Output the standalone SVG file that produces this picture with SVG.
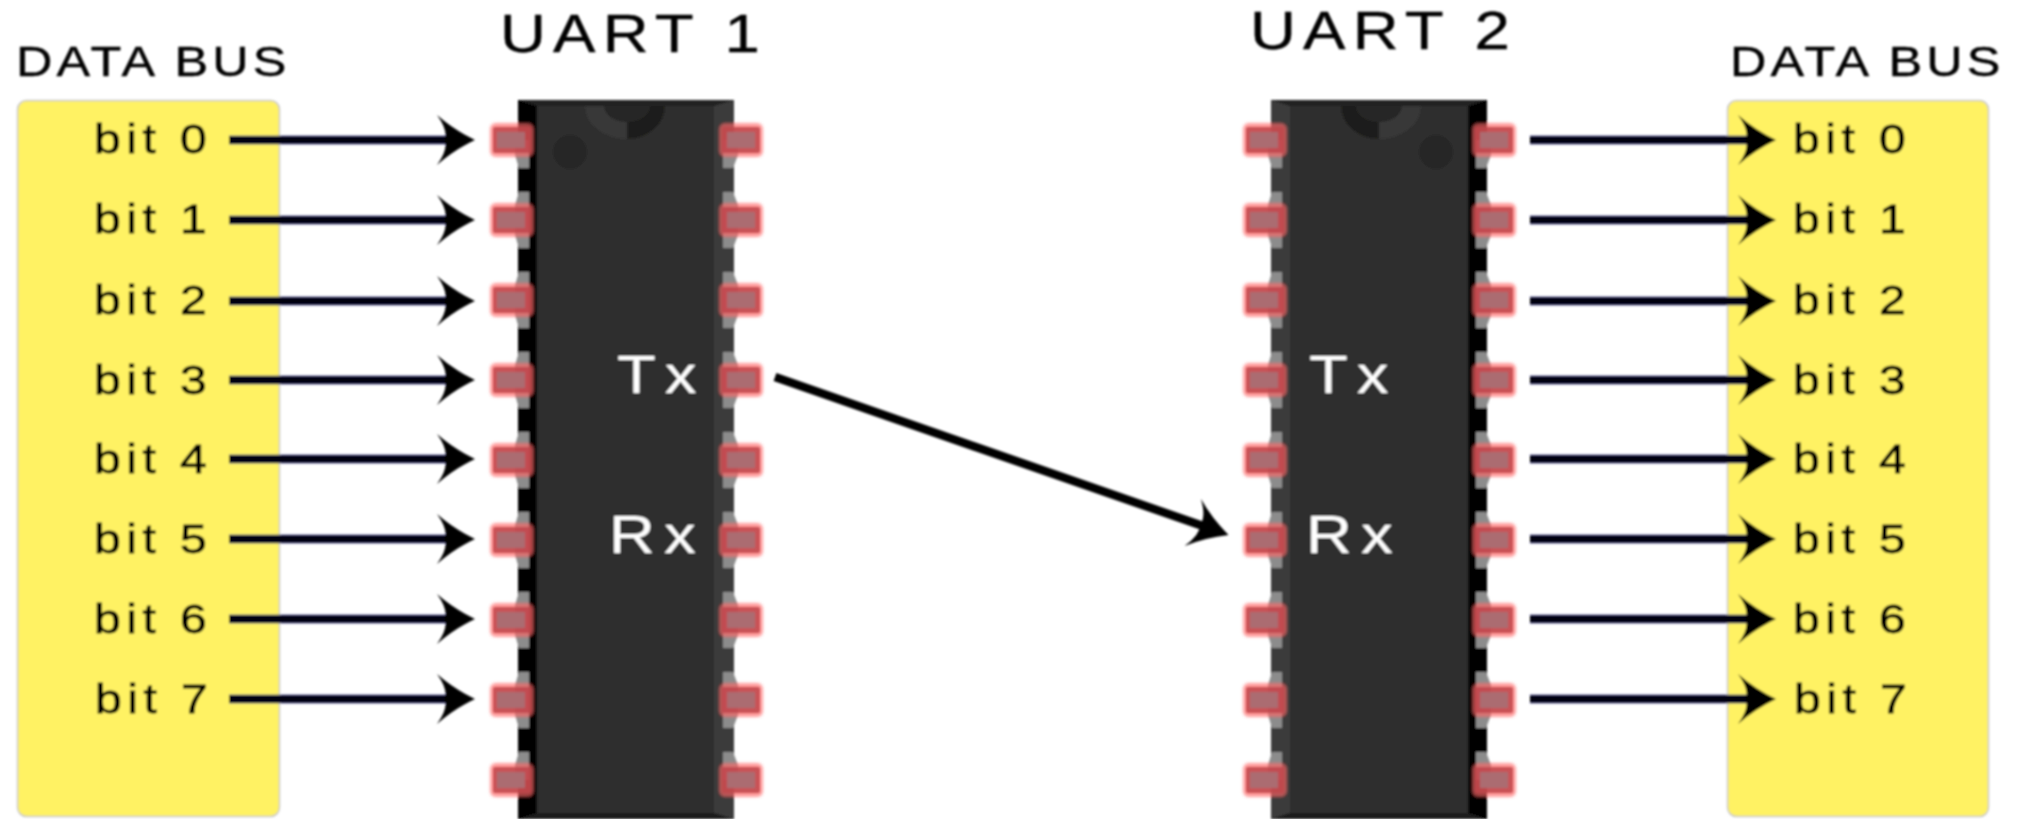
<svg xmlns="http://www.w3.org/2000/svg" xmlns:xlink="http://www.w3.org/1999/xlink" width="2018" height="819" viewBox="0 0 2018 819">
<style>
text{font-family:"Liberation Sans",Arial,sans-serif}
.bit{font-size:40px;letter-spacing:4.6px;fill:#000;stroke:#000;stroke-width:.8}
.bus{font-size:42px;letter-spacing:3.4px;fill:#000;stroke:#000;stroke-width:.4}
.title{font-size:53px;letter-spacing:6px;fill:#000;stroke:#000;stroke-width:.4}
.sig{font-size:53px;letter-spacing:7.5px;fill:#fff}
.box{fill:#fff263;stroke:#c9c9c9;stroke-width:1.5}
.halo{stroke:#6a6aa8;stroke-width:9;fill:none}
.wire{stroke:#000008;stroke-width:7.5;fill:none;marker-end:url(#head)}
.diag{stroke:#000;stroke-width:8.5;fill:none;marker-end:url(#head)}
.body{fill:#2f2f2f}
.leg{fill:#8c8c8c}
.glow{fill:#f66;opacity:.65;filter:url(#glowblur)}
.rim{fill:#c0454b;opacity:.85}
.core{fill:#ab6c71}
</style>
<defs>
<filter id="soft" filterUnits="userSpaceOnUse" x="0" y="0" width="2018" height="819"><feGaussianBlur stdDeviation="0.9"/></filter>
<filter id="glowblur" x="-20%" y="-20%" width="140%" height="140%"><feGaussianBlur stdDeviation="1.2"/></filter>
<marker id="head" markerUnits="userSpaceOnUse" markerWidth="44" markerHeight="56" viewBox="0 -28 44 56" refX="11" refY="0" orient="auto"><path d="M0-25Q17-10 38 0Q17 10 0 25Q11 10 8 0Q11-10 0-25Z" fill="#000"/></marker>
<path id="lu" class="leg" d="M1-28H11V0H-3V-15Z"/>
<path id="ld" class="leg" d="M1 28H11V0H-3V15Z"/>
<path id="ru" class="leg" d="M-1-28H-11V0H4V-15Z"/>
<path id="rd" class="leg" d="M-1 28H-11V0H4V15Z"/>
<g id="pl"><rect class="glow" x="-28" y="-17" width="44" height="34" rx="6"/><rect class="rim" x="-25" y="-13" width="38" height="26" rx="2"/><rect class="core" x="-21" y="-8" width="28" height="16"/></g>
<g id="pr"><rect class="glow" x="-15" y="-17" width="44" height="34" rx="6"/><rect class="rim" x="-12" y="-13" width="38" height="26" rx="2"/><rect class="core" x="-7" y="-8" width="28" height="16"/></g>
<g id="L"><use href="#lu"/><use href="#ld"/><use href="#pl"/></g>
<g id="R"><use href="#ru"/><use href="#rd"/><use href="#pr"/></g>
<g id="Lt"><use href="#ld"/><use href="#pl"/></g>
<g id="Rt"><use href="#rd"/><use href="#pr"/></g>
<g id="Lb"><use href="#lu"/><use href="#pl"/></g>
<g id="Rb"><use href="#ru"/><use href="#pr"/></g>
</defs>
<rect width="2018" height="819" fill="#fff"/>
<g filter="url(#soft)">
<g id="bus-left">
<rect class="box" x="17.5" y="100.5" width="262" height="716" rx="9"/>
<text class="bus" transform="translate(16,76) scale(1.2,1)">DATA BUS</text>
<text class="bit" transform="translate(94,153) scale(1.2,1)">bit 0</text>
<text class="bit" transform="translate(94,233) scale(1.2,1)">bit 1</text>
<text class="bit" transform="translate(94,314) scale(1.2,1)">bit 2</text>
<text class="bit" transform="translate(94,394) scale(1.2,1)">bit 3</text>
<text class="bit" transform="translate(94,473) scale(1.2,1)">bit 4</text>
<text class="bit" transform="translate(94,553) scale(1.2,1)">bit 5</text>
<text class="bit" transform="translate(94,633) scale(1.2,1)">bit 6</text>
<text class="bit" transform="translate(95,713) scale(1.2,1)">bit 7</text>
</g>
<g id="bus-right">
<rect class="box" x="1727.5" y="100.5" width="261" height="716" rx="9"/>
<text class="bus" transform="translate(1730,76) scale(1.2,1)">DATA BUS</text>
<text class="bit" transform="translate(1793,153) scale(1.2,1)">bit 0</text>
<text class="bit" transform="translate(1793,233) scale(1.2,1)">bit 1</text>
<text class="bit" transform="translate(1793,314) scale(1.2,1)">bit 2</text>
<text class="bit" transform="translate(1793,394) scale(1.2,1)">bit 3</text>
<text class="bit" transform="translate(1793,473) scale(1.2,1)">bit 4</text>
<text class="bit" transform="translate(1793,553) scale(1.2,1)">bit 5</text>
<text class="bit" transform="translate(1793,633) scale(1.2,1)">bit 6</text>
<text class="bit" transform="translate(1794,713) scale(1.2,1)">bit 7</text>
</g>
<g id="uart-1">
<rect x="518" y="100" width="216" height="719" fill="#333"/>
<rect x="518" y="100" width="19" height="719" fill="#000"/>
<rect x="714" y="100" width="20" height="719" fill="#3a3a3a"/>
<path d="M518 100H734L714 106H537Z" fill="#232323"/>
<path d="M518 819L537 813H714L734 819Z" fill="#1d1d1d"/>
<rect class="body" x="537" y="106" width="177" height="707"/>
<path d="M585 106A42 33 0 0 0 627 139V106Z" fill="#383838"/>
<path d="M665 106A38 33 0 0 1 627 139V106Z" fill="#1e1e1a"/>
<path d="M604 106A23 16 0 0 0 650 106Z" fill="#272727"/>
<circle cx="570" cy="152" r="17" fill="#262626"/>
<use href="#Lt" x="518" y="140"/><use href="#L" x="518" y="220"/><use href="#L" x="518" y="300"/><use href="#L" x="518" y="380"/><use href="#L" x="518" y="460"/><use href="#L" x="518" y="540"/><use href="#L" x="518" y="620"/><use href="#L" x="518" y="700"/><use href="#Lb" x="518" y="780"/>
<use href="#Rt" x="734" y="140"/><use href="#R" x="734" y="220"/><use href="#R" x="734" y="300"/><use href="#R" x="734" y="380"/><use href="#R" x="734" y="460"/><use href="#R" x="734" y="540"/><use href="#R" x="734" y="620"/><use href="#R" x="734" y="700"/><use href="#Rb" x="734" y="780"/>
<text class="title" transform="translate(500,52) scale(1.2,1)">UART 1</text>
<text class="sig" transform="translate(617,393) scale(1.2,1)">Tx</text>
<text class="sig" transform="translate(609,553) scale(1.2,1)">Rx</text>
</g>
<g id="uart-2">
<rect x="1271" y="100" width="216" height="719" fill="#333"/>
<rect x="1271" y="100" width="19" height="719" fill="#3a3a3a"/>
<rect x="1468" y="100" width="19" height="719" fill="#000"/>
<path d="M1271 100H1487L1468 106H1290Z" fill="#232323"/>
<path d="M1271 819L1290 813H1468L1487 819Z" fill="#1d1d1d"/>
<rect class="body" x="1290" y="106" width="178" height="707"/>
<path d="M1341 106A38 33 0 0 0 1379 139V106Z" fill="#1e1e1a"/>
<path d="M1421 106A42 33 0 0 1 1379 139V106Z" fill="#383838"/>
<path d="M1356 106A23 16 0 0 0 1402 106Z" fill="#272727"/>
<circle cx="1436" cy="152" r="17" fill="#262626"/>
<use href="#Lt" x="1271" y="140"/><use href="#L" x="1271" y="220"/><use href="#L" x="1271" y="300"/><use href="#L" x="1271" y="380"/><use href="#L" x="1271" y="460"/><use href="#L" x="1271" y="540"/><use href="#L" x="1271" y="620"/><use href="#L" x="1271" y="700"/><use href="#Lb" x="1271" y="780"/>
<use href="#Rt" x="1487" y="140"/><use href="#R" x="1487" y="220"/><use href="#R" x="1487" y="300"/><use href="#R" x="1487" y="380"/><use href="#R" x="1487" y="460"/><use href="#R" x="1487" y="540"/><use href="#R" x="1487" y="620"/><use href="#R" x="1487" y="700"/><use href="#Rb" x="1487" y="780"/>
<text class="title" transform="translate(1250,49) scale(1.2,1)">UART 2</text>
<text class="sig" transform="translate(1309,393) scale(1.2,1)">Tx</text>
<text class="sig" transform="translate(1306,553) scale(1.2,1)">Rx</text>
</g>
<g id="connectors">
<path class="halo" d="M229 140H452M229 220H452M229 301H452M229 380H452M229 459H452M229 539H452M229 619H452M229 699H452M1530 140H1752M1530 220H1752M1530 301H1752M1530 380H1752M1530 459H1752M1530 539H1752M1530 619H1752M1530 699H1752"/>
<line class="wire" x1="229" y1="140" x2="448" y2="140"/>
<line class="wire" x1="229" y1="220" x2="448" y2="220"/>
<line class="wire" x1="229" y1="301" x2="448" y2="301"/>
<line class="wire" x1="229" y1="380" x2="448" y2="380"/>
<line class="wire" x1="229" y1="459" x2="448" y2="459"/>
<line class="wire" x1="229" y1="539" x2="448" y2="539"/>
<line class="wire" x1="229" y1="619" x2="448" y2="619"/>
<line class="wire" x1="229" y1="699" x2="448" y2="699"/>
<line class="wire" x1="1530" y1="140" x2="1749" y2="140"/>
<line class="wire" x1="1530" y1="220" x2="1749" y2="220"/>
<line class="wire" x1="1530" y1="301" x2="1749" y2="301"/>
<line class="wire" x1="1530" y1="380" x2="1749" y2="380"/>
<line class="wire" x1="1530" y1="459" x2="1749" y2="459"/>
<line class="wire" x1="1530" y1="539" x2="1749" y2="539"/>
<line class="wire" x1="1530" y1="619" x2="1749" y2="619"/>
<line class="wire" x1="1530" y1="699" x2="1749" y2="699"/>
<line class="diag" x1="775" y1="377" x2="1203" y2="526"/>
</g>
</g>
</svg>
